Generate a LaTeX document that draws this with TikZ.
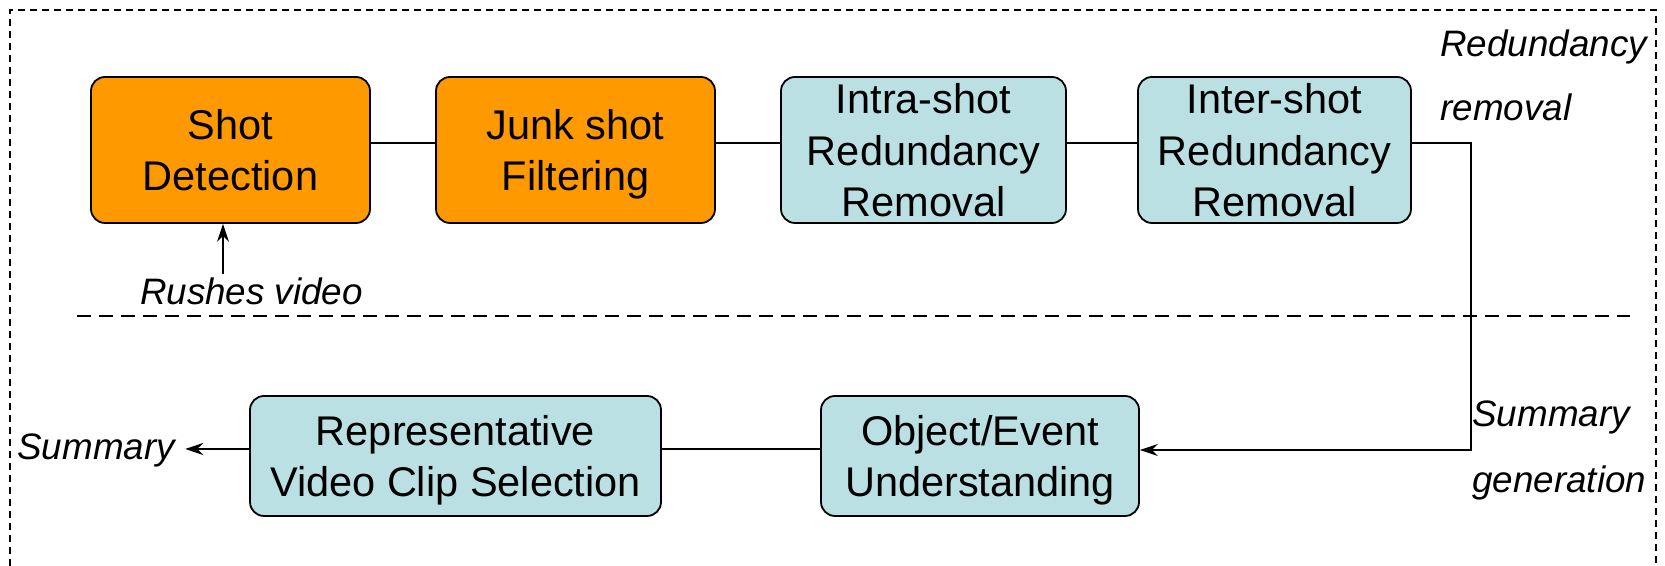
\documentclass[tikz,border=0pt]{standalone}
\usepackage{fontspec}
\setmainfont{Liberation Sans}
\usetikzlibrary{arrows.meta}
\definecolor{boxorange}{RGB}{255,153,0}
\definecolor{boxcyan}{RGB}{187,224,227}
\tikzset{>={Stealth[length=9pt,width=6pt,inset=3pt]},
    box/.style={rectangle, rounded corners=7pt, draw, line width=0.9pt, align=center, inner sep=2pt,
        text depth=0pt, execute at begin node={\rule{0pt}{17.5pt}},
        font=\fontsize{20.75}{25.75}\selectfont},
    lbl/.style={inner sep=2pt, align=left, font=\fontsize{18.4}{29.5}\selectfont\itshape},
    link/.style={line width=0.65pt}}

\begin{document}
\begin{tikzpicture}[x=0.5pt, y=0.5pt]
        \useasboundingbox (0,0) rectangle (1665,566);
        % outer frame, open at the bottom
        \draw[dash pattern=on 3.5pt off 2.5pt, line width=0.6pt] (10,0) -- (10,556) -- (1656,556) -- (1656,0);
        \draw[dash pattern=on 7pt off 4pt, line width=0.6pt] (77,250) -- (1630,250);

        % redundancy removal stage
        \node[box, fill=boxorange, minimum width=139.5pt, minimum height=73pt] (shot) at (230.5,416) {Shot\\Detection};
        \node[box, fill=boxorange, minimum width=139.5pt, minimum height=73pt] (junk) at (575.5,416) {Junk shot\\Filtering};
        \node[box, fill=boxcyan, minimum width=142.5pt, minimum height=73pt] (intra) at (923.5,416) {Intra-shot\\Redundancy\\Removal};
        \node[box, fill=boxcyan, minimum width=136.5pt, minimum height=73pt] (inter) at (1274.5,416) {Inter-shot\\Redundancy\\Removal};

        % summary generation stage
        \node[box, fill=boxcyan, minimum width=159pt, minimum height=60pt] (event) at (980,110) {Object/Event\\Understanding};
        \node[box, fill=boxcyan, minimum width=205.5pt, minimum height=60pt] (clip) at (455.5,110) {Representative\\Video Clip Selection};

        \node[lbl, anchor=base] (rushes) at (251.5,261) {Rushes video};
        \node[lbl, anchor=base west] (summary) at (13,106) {Summary};
        \node[lbl, anchor=north west] (redund) at (1436,541) {Redundancy\\[2.7pt]removal};
        \node[lbl, anchor=north west] (summgen) at (1468,170) {Summary\\[3.5pt]generation};
        \coordinate (turn) at (1471,116);

        \draw[link, ->] ([xshift=-3.75pt]shot.south |- rushes.north) -- ([xshift=-3.75pt]shot.south);
        \draw[link] ([yshift=3.5pt]shot.east) -- ([yshift=3.5pt]junk.west);
        \draw[link] ([yshift=3.5pt]junk.east) -- ([yshift=3.5pt]intra.west);
        \draw[link] ([yshift=3.5pt]intra.east) -- ([yshift=3.5pt]inter.west);
        \draw[link, ->] ([yshift=3.5pt]inter.east) -| (turn) -- ([yshift=3pt]event.east);
        \draw[link] ([yshift=3.5pt]event.west) -- ([yshift=3.5pt]clip.east);
        \draw[link, ->, shorten >=3pt] ([yshift=3.5pt]clip.west) -- ([yshift=3.5pt]clip.west -| summary.east);
    \end{tikzpicture}
\end{document}
